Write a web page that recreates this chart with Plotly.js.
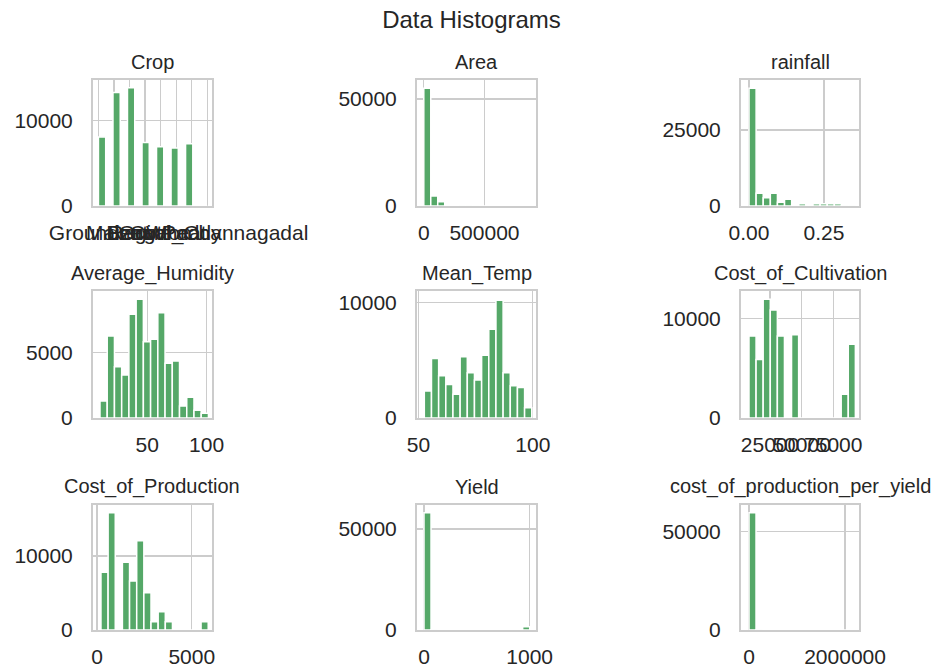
<!DOCTYPE html>
<html>
<head>
<meta charset="utf-8">
<script src="https://cdn.plot.ly/plotly-3.0.1.min.js"></script>
<style>html,body{margin:0;padding:0;background:#fff;}#chart{width:943px;height:670px;}</style>
</head>
<body>
<div id="chart"></div>
<script>
// ---------------- DATA ----------------
const chartTitle = "Data Histograms";
const panelTitles = ["Crop", "Area", "rainfall", "Average_Humidity", "Mean_Temp",
  "Cost_of_Cultivation", "Cost_of_Production", "Yield", "cost_of_production_per_yield"];

// Crop (categorical column): category labels and row counts
const cropCategories = ["Groundnut", "Maize", "Ragi", "Gram", "Cotton", "Wheat", "Paddy", "Bengal_Channagadal"];
const cropCounts = [8100, 13300, 13850, 7450, 6950, 6800, 7300, 0];
const cropBins = 15;

// Numeric columns: first bin edge, bin width, counts per bin (15 bins each)
const areaStart = 0, areaWidth = 57500;
const areaCounts = [55000, 4670, 2000, 400, 150, 80, 40, 20, 10, 5, 5, 0, 0, 0, 5];

const rainStart = 0, rainWidth = 0.0237;
const rainCounts = [38700, 4180, 2740, 4180, 1200, 2200, 0, 750, 450, 750, 750, 750, 750, 60, 40];

const humStart = 10.1, humWidth = 6.1;
const humCounts = [1300, 6250, 3910, 3280, 7900, 9050, 5820, 6000, 8030, 4170, 4340, 910, 1580, 590, 360];

const tempStart = 52.6, tempWidth = 3.13;
const tempCounts = [2340, 5160, 3660, 2910, 2050, 5300, 3920, 3290, 5450, 7700, 10210, 3920, 2800, 2650, 890];

const cultStart = 8430, cultWidth = 5600;
const cultCounts = [8220, 5880, 11900, 10830, 8220, 0, 8360, 0, 0, 0, 0, 0, 0, 2370, 7390];

const prodStart = 210, prodWidth = 377;
const prodCounts = [7800, 15850, 0, 9150, 6620, 12070, 5050, 1130, 2480, 1130, 0, 0, 0, 0, 1130];

const yieldStart = 0, yieldWidth = 66.7;
const yieldCounts = [58070, 30, 10, 5, 0, 0, 0, 0, 0, 0, 0, 0, 0, 0, 1630];

const cpyStart = 0, cpyWidth = 146000;
const cpyCounts = [59660, 40, 10, 5, 0, 0, 0, 0, 0, 0, 0, 0, 0, 0, 5];

// Tick values / labels
const xTickVals = [
  [0, 1, 2, 3, 4, 5, 6, 7], [0, 500000], [0, 0.25],
  [50, 100], [50, 100], [25000, 50000, 75000],
  [0, 5000], [0, 1000], [0, 2000000]];
const xTickText = [
  cropCategories, ["0", "500000"], ["0.00", "0.25"],
  ["50", "100"], ["50", "100"], ["25000", "50000", "75000"],
  ["0", "5000"], ["0", "1000"], ["0", "2000000"]];
const yTickVals = [
  [0, 10000], [0, 50000], [0, 25000],
  [0, 5000], [0, 10000], [0, 10000],
  [0, 10000], [0, 50000], [0, 50000]];
const yTickText = [
  ["0", "10000"], ["0", "50000"], ["0", "25000"],
  ["0", "5000"], ["0", "10000"], ["0", "10000"],
  ["0", "10000"], ["0", "50000"], ["0", "50000"]];

// ---------------- STYLE / LAYOUT ----------------
const W = 943, H = 670;
const green = "#55a868";
const gridCol = "#cccccc";
const textCol = "#262626";
const fontFam = "Liberation Sans, Arial, sans-serif";

const colPx = [[93, 212], [417, 536], [741, 859]];
const rowPx = [[80, 206], [291, 418], [505, 630]];

const xRanges = [
  [-0.35, 7.3], [-56000, 925000], [-0.0267, 0.3667],
  [4.2, 104.6], [49.4, 101.4], [2120, 95300],
  [-210, 6065], [-66, 1060], [-167000, 2290000]];
const yRanges = [
  [0, 14770], [0, 58880], [0, 41450],
  [0, 9680], [0, 11010], [0, 12740],
  [0, 16900], [0, 61900], [0, 63570]];

function binned(start, width, counts) {
  return {
    x: counts.map((c, i) => start + (i + 0.5) * width),
    y: counts,
    w: counts.map(() => width)
  };
}

// Crop: categories -> 15 equal bins over [0, n-1]
function cropHist() {
  const n = cropCategories.length;
  const w = (n - 1) / cropBins;
  const ys = new Array(cropBins).fill(0);
  cropCounts.forEach((c, k) => {
    const b = Math.min(Math.floor(k / w + 1e-9), cropBins - 1);
    ys[b] += c;
  });
  return { x: ys.map((c, i) => (i + 0.5) * w), y: ys, w: ys.map(() => w) };
}

const series = [
  cropHist(),
  binned(areaStart, areaWidth, areaCounts),
  binned(rainStart, rainWidth, rainCounts),
  binned(humStart, humWidth, humCounts),
  binned(tempStart, tempWidth, tempCounts),
  binned(cultStart, cultWidth, cultCounts),
  binned(prodStart, prodWidth, prodCounts),
  binned(yieldStart, yieldWidth, yieldCounts),
  binned(cpyStart, cpyWidth, cpyCounts)
];

const data = [];
const layout = {
  width: W, height: H,
  margin: { l: 0, r: 0, t: 0, b: 0 },
  paper_bgcolor: "#ffffff",
  plot_bgcolor: "#ffffff",
  showlegend: false,
  font: { family: fontFam, color: textCol },
  title: {
    text: chartTitle,
    x: 0.5, xanchor: "center", xref: "paper",
    y: 1 - 20 / H, yanchor: "middle", yref: "container",
    font: { family: fontFam, size: 24, color: textCol }
  },
  annotations: []
};

for (let i = 0; i < 9; i++) {
  const r = Math.floor(i / 3), c = i % 3;
  const sfx = i === 0 ? "" : String(i + 1);
  const s = series[i];
  data.push({
    type: "bar",
    x: s.x, y: s.y, width: s.w,
    xaxis: "x" + sfx, yaxis: "y" + sfx,
    marker: { color: green, line: { color: "#ffffff", width: 1.5 } },
    hoverinfo: "x+y"
  });
  const xd = [colPx[c][0] / W, colPx[c][1] / W];
  const yd = [1 - rowPx[r][1] / H, 1 - rowPx[r][0] / H];
  const common = {
    showline: true, mirror: true, linecolor: gridCol, linewidth: 2,
    showgrid: true, gridcolor: gridCol, gridwidth: 1.3,
    zeroline: false, fixedrange: true,
    ticks: "outside", tickcolor: "rgba(0,0,0,0)",
    tickfont: { family: fontFam, size: 21, color: textCol },
    tickmode: "array", ticklabeloverflow: "allow"
  };
  layout["xaxis" + sfx] = Object.assign({}, common, {
    domain: xd, anchor: "y" + sfx, range: xRanges[i],
    tickvals: xTickVals[i], ticktext: xTickText[i],
    tickangle: 0, ticklen: 7
  });
  layout["yaxis" + sfx] = Object.assign({}, common, {
    domain: yd, anchor: "x" + sfx, range: yRanges[i],
    tickvals: yTickVals[i], ticktext: yTickText[i],
    ticklen: 14
  });
  layout.annotations.push({
    text: panelTitles[i],
    xref: "paper", yref: "paper",
    x: (xd[0] + xd[1]) / 2, y: yd[1],
    xanchor: "center", yanchor: "middle", yshift: 18,
    showarrow: false,
    font: { family: fontFam, size: 20, color: textCol }
  });
}

Plotly.newPlot("chart", data, layout, { staticPlot: true, displayModeBar: false });
</script>
</body>
</html>
